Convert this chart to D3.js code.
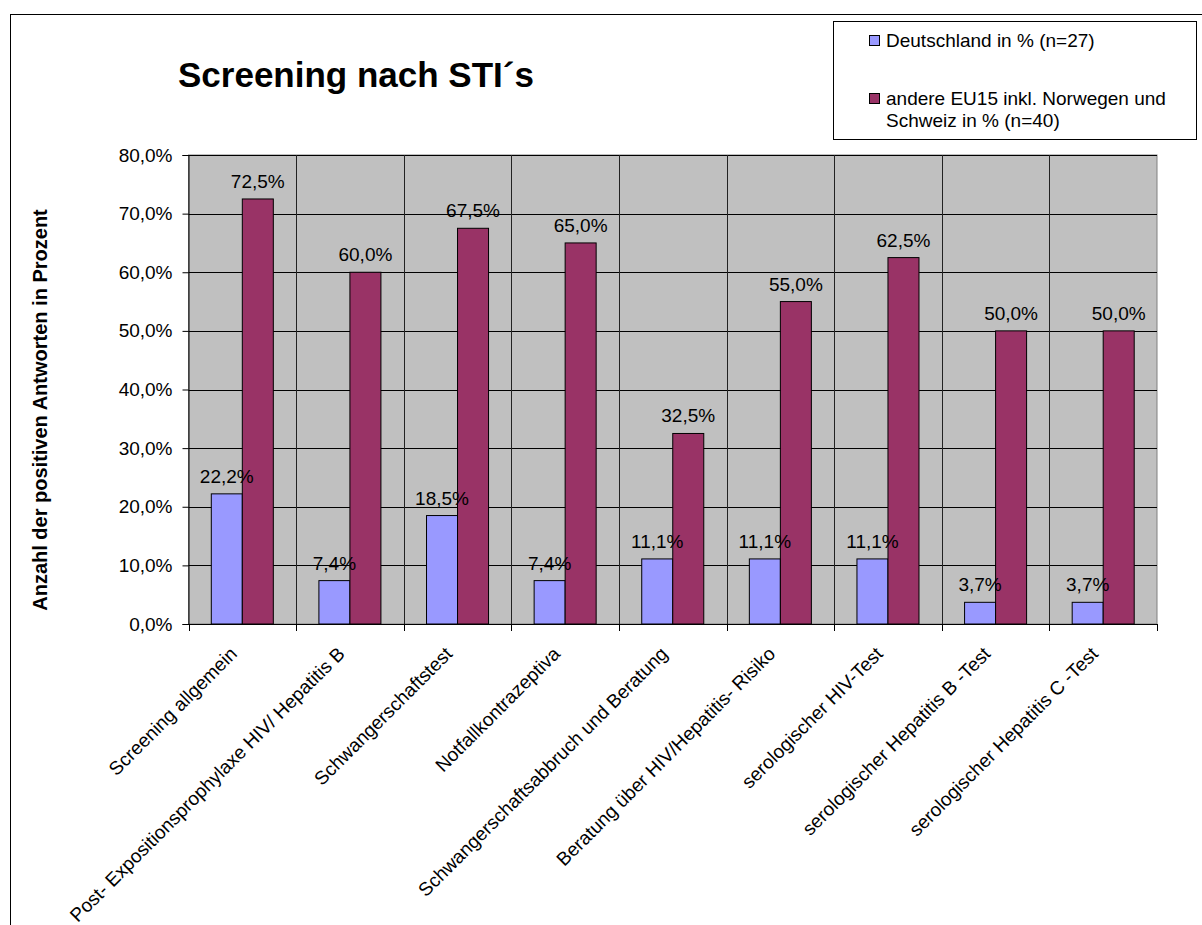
<!DOCTYPE html>
<html lang="de">
<head>
<meta charset="UTF-8">
<title>Screening nach STI´s</title>
<script src="https://d3js.org/d3.v7.min.js"></script>
<style>
  body { margin: 0; background: #fff; }
  text { font-family: "Liberation Sans", Arial, sans-serif; fill: #000; }
</style>
</head>
<body>
<svg id="chart" width="1202" height="925"></svg>
<script>
// data
var categories = [
  "Screening allgemein",
  "Post- Expositionsprophylaxe HIV/ Hepatitis B",
  "Schwangerschaftstest",
  "Notfallkontrazeptiva",
  "Schwangerschaftsabbruch und Beratung",
  "Beratung über HIV/Hepatitis- Risiko",
  "serologischer HIV-Test",
  "serologischer Hepatitis B -Test",
  "serologischer Hepatitis C -Test"
];
var seriesNames = ["Deutschland in % (n=27)", "andere EU15 inkl. Norwegen und Schweiz in % (n=40)"];
var deutschland = [22.2, 7.4, 18.5, 7.4, 11.1, 11.1, 11.1, 3.7, 3.7];
var andereEU = [72.5, 60.0, 67.5, 65.0, 32.5, 55.0, 62.5, 50.0, 50.0];
var yTicks = [0, 10, 20, 30, 40, 50, 60, 70, 80];
var colors = ["#9999FF", "#993366"];

var svg = d3.select("#chart");
// plot area (note: "top" is reserved on window, so use other names)
var pL = 188.5, pR = 1157, pT = 155, pB = 624;

var fmt = function (v) { return v.toFixed(1).replace(".", ",") + "%"; };

// outer frame (only top and left edges are visible)
svg.append("rect").attr("x", 10.5).attr("y", 14.5).attr("width", 1300).attr("height", 1000)
  .attr("fill", "none").attr("stroke", "#000").attr("stroke-width", 1);

var x = d3.scaleBand().domain(categories).range([pL, pR]).paddingInner(0).paddingOuter(0);
var xs = d3.scaleBand().domain([0, 1]).range([0, x.bandwidth()]).paddingInner(0).paddingOuter(0.735);
var y = d3.scaleLinear().domain([0, 80]).range([pB, pT]);

// plot background
svg.append("rect").attr("x", pL).attr("y", pT).attr("width", pR - pL).attr("height", pB - pT)
  .attr("fill", "#C0C0C0").attr("stroke", "#808080").attr("stroke-width", 1);

// horizontal gridlines
svg.append("g").selectAll("line").data(yTicks.slice(1)).join("line")
  .attr("x1", pL).attr("x2", pR)
  .attr("y1", function (d) { return Math.round(y(d)) + 0.5; })
  .attr("y2", function (d) { return Math.round(y(d)) + 0.5; })
  .attr("stroke", "#000").attr("stroke-width", 1);

// vertical gridlines between categories
svg.append("g").selectAll("line").data(categories.slice(1)).join("line")
  .attr("x1", function (d) { return Math.round(x(d)) + 0.5; })
  .attr("x2", function (d) { return Math.round(x(d)) + 0.5; })
  .attr("y1", pT).attr("y2", pB)
  .attr("stroke", "#222").attr("stroke-width", 1);

// bars
var groups = svg.append("g").selectAll("g").data(categories).join("g")
  .attr("transform", function (d) { return "translate(" + x(d) + ",0)"; });

[deutschland, andereEU].forEach(function (vals, s) {
  groups.append("rect")
    .attr("x", xs(s)).attr("width", xs.bandwidth())
    .attr("y", function (d, i) { return y(vals[i]); })
    .attr("height", function (d, i) { return pB - y(vals[i]); })
    .attr("fill", colors[s]).attr("stroke", "#000").attr("stroke-width", 1);
});

// value labels
[deutschland, andereEU].forEach(function (vals, s) {
  groups.append("text")
    .attr("x", xs(s) + xs.bandwidth() / 2)
    .attr("y", function (d, i) { return y(vals[i]) - 11; })
    .attr("text-anchor", "middle")
    .attr("font-size", "19px")
    .text(function (d, i) { return fmt(vals[i]); });
});

// y axis
var yAxis = d3.axisLeft(y).tickValues(yTicks).tickSize(6).tickPadding(10)
  .tickFormat(function (d) { return d.toFixed(1).replace(".", ",") + "%"; });
var gy = svg.append("g").attr("transform", "translate(" + pL + ",0)").call(yAxis);
gy.select(".domain").attr("stroke", "#000");
gy.selectAll("text").attr("font-size", "19px").attr("font-family", "Liberation Sans, Arial, sans-serif");

// x axis
var xAxis = d3.axisBottom(x).tickSize(0).tickFormat("");
var gx = svg.append("g").attr("transform", "translate(0," + pB + ")").call(xAxis);
gx.select(".domain").attr("stroke", "#000");
var bounds = categories.map(function (c) { return x(c); }).concat([pR]);
gx.selectAll(".bt").data(bounds).join("line").attr("class", "bt")
  .attr("x1", function (d) { return Math.round(d) + 0.5; })
  .attr("x2", function (d) { return Math.round(d) + 0.5; })
  .attr("y1", 0).attr("y2", 7).attr("stroke", "#000");

svg.append("g").selectAll("text").data(categories).join("text")
  .attr("transform", function (d) {
    return "translate(" + (x(d) + x.bandwidth() / 2 - 4) + "," + (pB + 31) + ") rotate(-45)";
  })
  .attr("text-anchor", "end")
  .attr("font-size", "19px")
  .text(function (d) { return d; });

// title
svg.append("text").attr("x", 178).attr("y", 87)
  .attr("font-size", "35px").attr("font-weight", "bold")
  .text("Screening nach STI´s");

// y axis title
svg.append("text")
  .attr("transform", "translate(47,410) rotate(-90)")
  .attr("text-anchor", "middle")
  .attr("font-size", "20px").attr("font-weight", "bold")
  .text("Anzahl der positiven Antworten in Prozent");

// legend
var lg = svg.append("g");
lg.append("rect").attr("x", 833.5).attr("y", 21.5).attr("width", 363).attr("height", 118)
  .attr("fill", "#fff").attr("stroke", "#000");
var legendRows = [
  { lines: [seriesNames[0]], y: 47 },
  { lines: ["andere EU15 inkl. Norwegen und", "Schweiz in % (n=40)"], y: 105 }
];
legendRows.forEach(function (r, i) {
  lg.append("rect").attr("x", 869.5).attr("y", r.y - 11.5).attr("width", 10).attr("height", 10)
    .attr("fill", colors[i]).attr("stroke", "#000");
  var t = lg.append("text").attr("x", 886).attr("y", r.y).attr("font-size", "19px");
  r.lines.forEach(function (l, j) {
    t.append("tspan").attr("x", 886).attr("dy", j === 0 ? 0 : 22).text(l);
  });
});
</script>
</body>
</html>
